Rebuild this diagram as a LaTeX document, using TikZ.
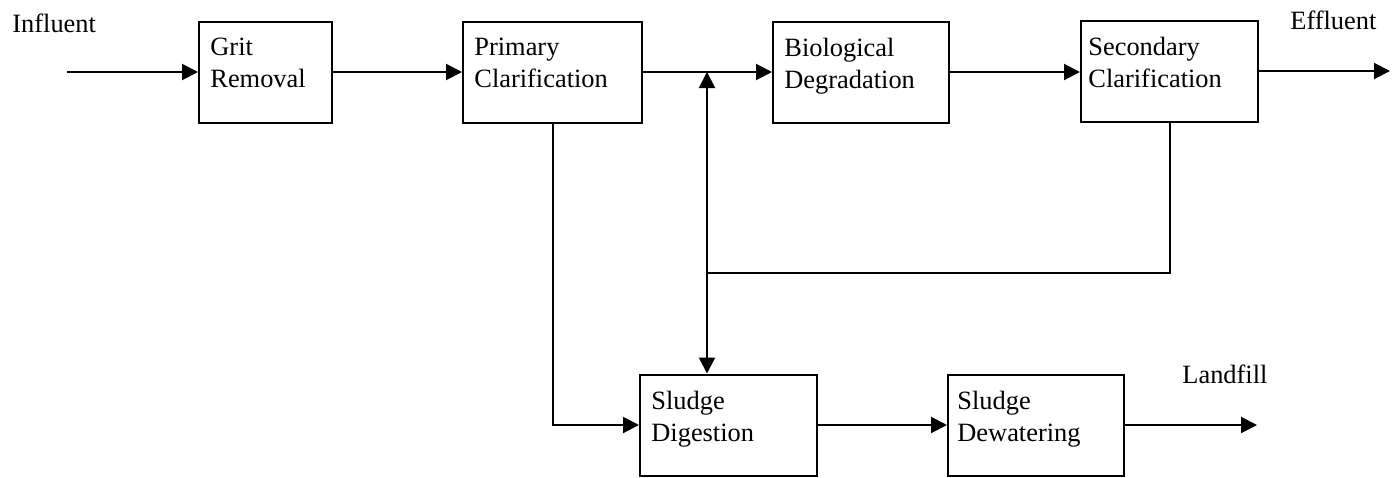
\documentclass[tikz,border=0pt]{standalone}
\usepackage{fontspec}
\setmainfont{Liberation Serif}
\usetikzlibrary{arrows.meta,calc}
\begin{document}
\begin{tikzpicture}[x=0.5pt,y=-0.5pt,
  every node/.style={font=\fontsize{13.2}{16}\selectfont},
  box/.style={draw,line width=1pt,inner sep=0pt,minimum height=50.5pt},
  boxtext/.style={anchor=north west,align=left,inner sep=0pt},
  plain/.style={anchor=base west,inner sep=0pt},
  conn/.style={line width=1pt},
  arr/.style={line width=1pt,-{Triangle[length=8pt,width=8pt]}}]
\useasboundingbox (0,0) rectangle (1392,477);
% boxes
\node[box,minimum width=66.5pt] (grit) at (265.5,72) {};
\node[box,minimum width=89.5pt] (prim) at (552.5,72) {};
\node[box,minimum width=88pt]   (bio)  at (861,72) {};
\node[box,minimum width=88.5pt] (sec)  at (1169.5,71) {};
\node[box,minimum width=88.5pt] (dig)  at (728.5,425) {};
\node[box,minimum width=88pt]   (dew)  at (1036,425) {};
% box texts
\node[boxtext] (grit-t) at ($(grit.north west)+(12,17)$) {Grit\\Removal};
\node[boxtext] (prim-t) at ($(prim.north west)+(12,17)$) {Primary\\Clarification};
\node[boxtext] (bio-t)  at ($(bio.north west)+(12,17)$) {Biological\\Degradation};
\node[boxtext] (sec-t)  at ($(sec.north west)+(8,17)$) {Secondary\\Clarification};
\node[boxtext] (dig-t)  at ($(dig.north west)+(12,17)$) {Sludge\\Digestion};
\node[boxtext] (dew-t)  at ($(dew.north west)+(10,17)$) {Sludge\\Dewatering};
% free labels
\node[plain] (influent) at (12,32) {Influent};
\node[plain] (effluent) at (1290,29) {Effluent};
\node[plain] (landfill) at (1182,383) {Landfill};
% coordinates
\coordinate (in)  at (67,72);
\coordinate (out) at (1390,71);
\coordinate (lf)  at (1257,425);
\coordinate (j)   at (707,72);
\coordinate (fb)  at (707,273);
% connectors
\draw[arr] (in) -- (grit.west);
\draw[arr] (grit.east) -- (prim.west);
\draw[arr] (prim.east) -- (bio.west);
\draw[arr] (bio.east) -- (sec.west |- bio.east);
\draw[arr] (sec.east) -- (out);
\draw[conn] (sec.south) |- (fb);
\draw[arr] (fb) -- (j);
\draw[arr] (fb) -- (fb |- dig.north);
\draw[arr] (prim.south) |- (dig.west);
\draw[arr] (dig.east) -- (dew.west);
\draw[arr] (dew.east) -- (lf);
\end{tikzpicture}
\end{document}
